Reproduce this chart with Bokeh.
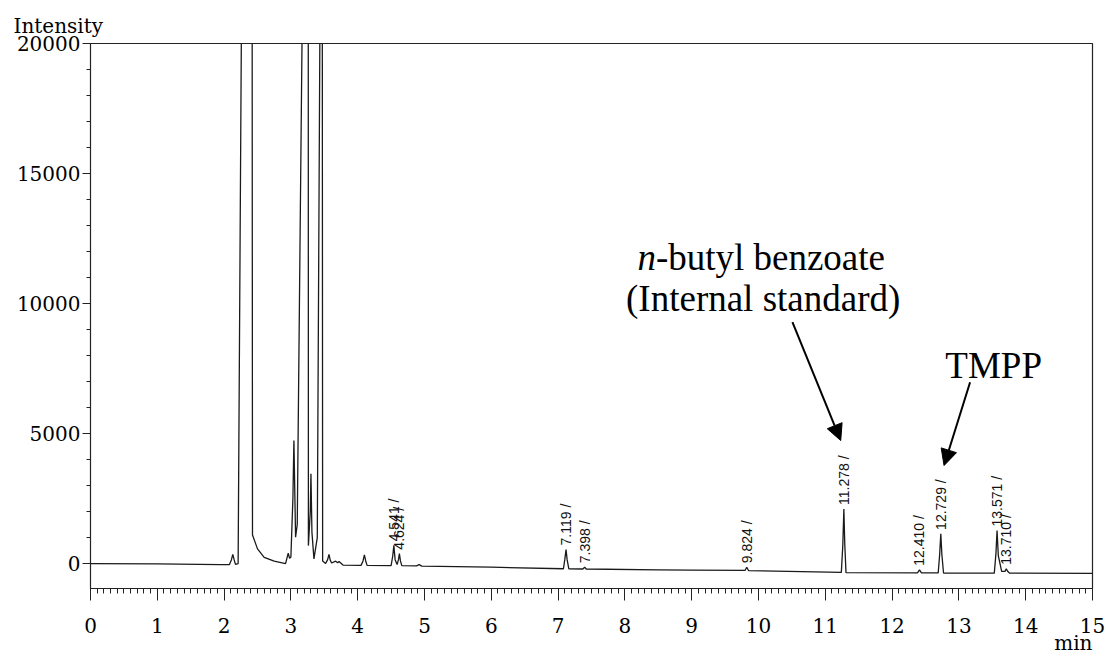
import math
from bokeh.plotting import figure
from bokeh.models import Range1d, SingleIntervalTicker, Label, Arrow, NormalHead, ColumnDataSource, Title
from bokeh.core.properties import value
from bokeh.embed import file_html
from bokeh.resources import INLINE

# ---- chromatogram trace (time in min, intensity) ----
trace_t = [0.00, 1.00, 1.95, 2.08, 2.11, 2.13, 2.15, 2.17, 2.21, 2.26, 2.42, 2.425,
           2.50, 2.60, 2.75, 2.92, 2.94, 2.96, 2.98, 3.00, 3.03, 3.045, 3.06, 3.07,
           3.095, 3.17, 3.26, 3.262, 3.29, 3.30, 3.315, 3.345, 3.395, 3.435, 3.47,
           3.475, 3.52, 3.55, 3.57, 3.59, 3.61, 3.67, 3.70, 3.72, 3.78, 4.05, 4.08,
           4.10, 4.12, 4.14, 4.50, 4.525, 4.541, 4.56, 4.59, 4.61, 4.624, 4.64, 4.66,
           4.88, 4.92, 4.96, 6.00, 7.08, 7.10, 7.119, 7.135, 7.16, 7.37, 7.398, 7.42,
           8.50, 9.00, 9.80, 9.824, 9.85, 11.24, 11.262, 11.278, 11.292, 11.31,
           12.38, 12.410, 12.44, 12.69, 12.712, 12.729, 12.745, 12.77,
           13.53, 13.555, 13.571, 13.59, 13.64, 13.69, 13.710, 13.73, 13.76, 15.00]
trace_y = [0, -10, -40, -40, 150, 350, 150, -30, 0, 21000, 21000, 1100,
           565, 240, 90, 0, 200, 400, 200, 250, 2500, 4730, 2500, 1010,
           1500, 21000, 21000, 690, 2000, 3450, 1200, 180, 1000, 21000, 21000,
           100, 0, 150, 350, 120, 20, 90, 30, 80, -60, -70, 100,
           330, 100, -70, -80, 300, 700, 150, -40, 150, 380, 100, -80,
           -90, -40, -100, -140, -200, 150, 540, 150, -200, -210, -140, -210,
           -240, -250, -260, -140, -270, -340, 700, 2100, 700, -350,
           -360, -240, -360, -360, 350, 1140, 350, -365,
           -370, 400, 1270, 300, -300, -300, -200, -300, -370, -380]

# ---- integrated peaks (retention time labels) ----
peak_times = [4.541, 4.624, 7.119, 7.398, 9.824, 11.278, 12.410, 12.729, 13.571, 13.710]
peak_heights = [700, 380, 540, -140, -140, 2100, -240, 1140, 1270, -200]
peak_labels = [f"{t:.3f} /" for t in peak_times]

# ---- axis ----
x_start, x_end = 0, 15
y_start, y_end = -960, 20000

p = figure(width=1106, height=657, x_range=Range1d(x_start, x_end),
           y_range=Range1d(y_start, y_end), output_backend="svg",
           toolbar_location=None, min_border_left=90, min_border_right=14,
           min_border_top=43, min_border_bottom=69)
p.background_fill_color = "white"
p.border_fill_color = "white"
p.outline_line_color = "#222222"
p.outline_line_width = 1.2
p.xgrid.visible = False
p.ygrid.visible = False

# axis titles as plot titles (drawn outside the frame)
p.title = Title(text="Intensity", align="left", offset=-77, standoff=11,
                text_font="DejaVu Serif", text_font_size="20px",
                text_font_style="normal", text_color="black")
p.add_layout(Title(text="min", align="right", standoff=-13,
                   text_font="DejaVu Serif", text_font_size="20px",
                   text_font_style="normal", text_color="black"), "below")

p.xaxis.ticker = SingleIntervalTicker(interval=1, num_minor_ticks=10)
p.xaxis.major_tick_out = 12
p.xaxis.major_tick_in = 0
p.xaxis.minor_tick_out = 5
p.xaxis.minor_tick_in = 0
p.xaxis.major_label_standoff = 17
p.xaxis.major_label_text_font = "DejaVu Serif"
p.xaxis.major_label_text_font_size = "20px"
p.xaxis.major_label_text_color = "black"
p.xaxis.axis_line_color = "#222222"
p.xaxis.major_tick_line_color = "#222222"
p.xaxis.minor_tick_line_color = "#222222"

p.yaxis.ticker = SingleIntervalTicker(interval=5000, num_minor_ticks=5)
p.yaxis.major_tick_out = 8
p.yaxis.major_tick_in = 0
p.yaxis.minor_tick_out = 4
p.yaxis.minor_tick_in = 0
p.yaxis.major_label_standoff = 2
p.yaxis.major_label_text_font = "DejaVu Serif"
p.yaxis.major_label_text_font_size = "20px"
p.yaxis.major_label_text_color = "black"
p.yaxis.axis_line_color = "#222222"
p.yaxis.major_tick_line_color = "#222222"
p.yaxis.minor_tick_line_color = "#222222"

# trace
p.line(trace_t, trace_y, line_color="#1a1a1a", line_width=1.3)

# peak labels
src = ColumnDataSource(dict(x=peak_times, y=peak_heights, t=peak_labels))
p.text(x="x", y="y", text="t", source=src, angle=math.pi / 2,
       text_align="left", text_baseline="middle", y_offset=-4,
       text_font=value("Liberation Sans"),
       text_font_size="14px", text_color="#111111")

# compound annotations
p.add_layout(Label(x=8.187, y=11769, text="n", text_font="Liberation Serif",
                   text_font_style="italic", text_font_size="37px",
                   text_baseline="alphabetic", text_color="black"))
p.add_layout(Label(x=8.464, y=11769, text="-butyl benzoate", text_font="Liberation Serif",
                   text_font_size="37px", text_baseline="alphabetic", text_color="black"))
p.add_layout(Label(x=10.07, y=10192, text="(Internal standard)", text_font="Liberation Serif",
                   text_font_size="37px", text_align="center", text_baseline="alphabetic",
                   text_color="black"))
p.add_layout(Label(x=13.52, y=7615, text="TMPP", text_font="Liberation Serif",
                   text_font_size="37px", text_align="center", text_baseline="alphabetic",
                   text_color="black"))

p.add_layout(Arrow(end=NormalHead(size=16, fill_color="black", line_color="black"),
                   x_start=10.508, y_start=9281, x_end=11.231, y_end=4731,
                   line_color="black", line_width=2))
p.add_layout(Arrow(end=NormalHead(size=16, fill_color="black", line_color="black"),
                   x_start=13.167, y_start=6973, x_end=12.778, y_end=3769,
                   line_color="black", line_width=2))

open("out.html", "w").write(file_html(p, INLINE))
